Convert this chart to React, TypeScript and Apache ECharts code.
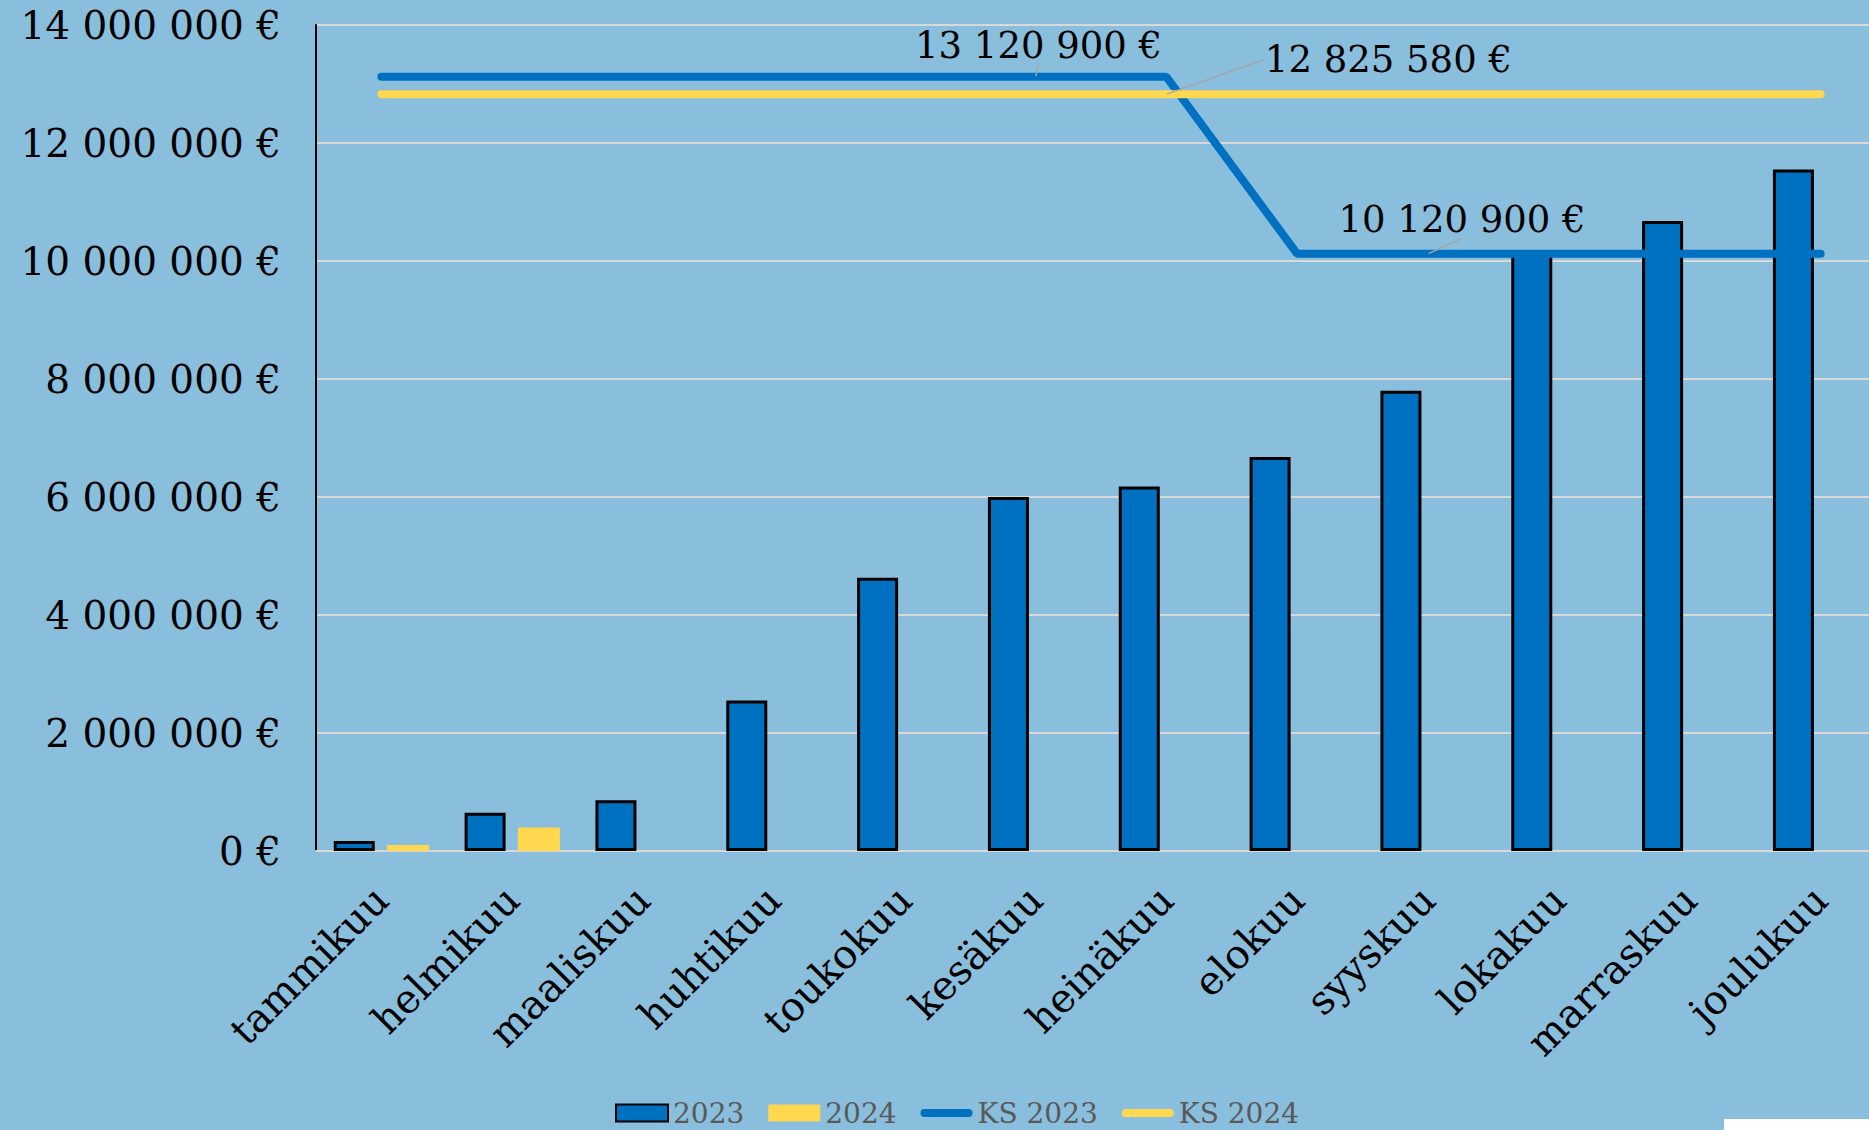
import React, { useEffect, useRef } from "react";
import * as echarts from "echarts";

const categories = [
  "tammikuu", "helmikuu", "maaliskuu", "huhtikuu", "toukokuu", "kesäkuu",
  "heinäkuu", "elokuu", "syyskuu", "lokakuu", "marraskuu", "joulukuu",
];
const values2023 = [170000, 650000, 860000, 2550000, 4630000, 6000000, 6180000, 6680000, 7800000, 10150000, 10680000, 11550000];
const values2024 = [100000, 400000, null, null, null, null, null, null, null, null, null, null];
const ks2023 = [13120900, 13120900, 13120900, 13120900, 13120900, 13120900, 13120900, 10120900, 10120900, 10120900, 10120900, 10120900];
const ks2024 = [12825580, 12825580, 12825580, 12825580, 12825580, 12825580, 12825580, 12825580, 12825580, 12825580, 12825580, 12825580];
const yTicks = { min: 0, max: 14000000, interval: 2000000 };
const labelIdx2023 = [5, 8];
const labelIdx2024 = [6];

const fmt = (v: number) => String(Math.round(v)).replace(/\B(?=(\d{3})+(?!\d))/g, " ") + " €";

const BG = "#89BEDC";
const BLUE = "#0070C0";
const YELLOW = "#FFD850";
const SERIF = "DejaVu Serif";
const LINE_ICON = "path://M4,0 L48,0 A4,4 0 0 1 48,8 L4,8 A4,4 0 0 1 4,0 Z";

export default function App() {
  const ref = useRef<HTMLDivElement>(null);
  useEffect(() => {
    document.body.style.margin = "0";
    const chart = echarts.init(ref.current!, null, { renderer: "svg" });
    const labelStyle = {
      show: true,
      position: "top" as const,
      distance: 6,
      fontFamily: SERIF,
      fontSize: 37,
      color: "#000",
      formatter: (p: any) => fmt(p.value),
    };
    const labelLine = { show: true, lineStyle: { color: "#A6A6A6", width: 1.5 } };
    chart.setOption({
      animation: false,
      backgroundColor: BG,
      grid: { left: 316, top: 25, right: -17, height: 826, outerBoundsMode: "none", containLabel: false },
      legend: {
        left: 610,
        top: 1094,
        itemWidth: 52,
        itemHeight: 17,
        itemGap: 24,
        textStyle: { fontFamily: SERIF, fontSize: 28, color: "#595959" },
        data: [
          { name: "2023", icon: "rect" },
          { name: "2024", icon: "rect" },
          { name: "KS 2023", icon: LINE_ICON },
          { name: "KS 2024", icon: LINE_ICON },
        ],
      },
      xAxis: {
        type: "category",
        data: categories,
        axisLine: { lineStyle: { color: "#D9D9D9", width: 2 } },
        axisTick: { show: false },
        axisLabel: {
          rotate: 45,
          margin: 42,
          interval: 0,
          fontFamily: SERIF,
          fontSize: 40,
          color: "#000",
        },
      },
      yAxis: {
        type: "value",
        min: yTicks.min,
        max: yTicks.max,
        interval: yTicks.interval,
        axisLine: { show: true, lineStyle: { color: "#000", width: 2 } },
        axisTick: { show: false },
        splitLine: { lineStyle: { color: "#D9D9D9", width: 2 } },
        axisLabel: {
          margin: 35,
          fontFamily: SERIF,
          fontSize: 39,
          color: "#000",
          formatter: (v: number) => fmt(v),
        },
      },
      series: [
        {
          name: "2023",
          type: "bar",
          data: values2023,
          barWidth: 41,
          barGap: "30%",
          itemStyle: { color: BLUE, borderColor: "#000", borderWidth: 3 },
        },
        {
          name: "2024",
          type: "bar",
          data: values2024,
          barWidth: 42,
          itemStyle: { color: YELLOW },
        },
        {
          name: "KS 2023",
          type: "line",
          data: ks2023.map((v, i) =>
            labelIdx2023.includes(i) ? { value: v, label: labelStyle, labelLine } : v
          ),
          symbol: "circle",
          symbolSize: 1,
          showSymbol: true,
          itemStyle: { color: BLUE },
          lineStyle: { color: BLUE, width: 8, cap: "round" },
          labelLayout: (p: any) => (p.dataIndex === 8 ? { dx: 34, dy: -9 } : { dx: 3, dy: -6 }),
          z: 3,
        },
        {
          name: "KS 2024",
          type: "line",
          data: ks2024.map((v, i) =>
            labelIdx2024.includes(i) ? { value: v, label: labelStyle, labelLine } : v
          ),
          symbol: "circle",
          symbolSize: 1,
          showSymbol: true,
          itemStyle: { color: YELLOW },
          lineStyle: { color: YELLOW, width: 8, cap: "round" },
          labelLayout: { dx: 222, dy: -10 },
          z: 4,
        },
      ],
      graphic: [
        { type: "rect", shape: { x: 1724, y: 1119, width: 145, height: 11 }, style: { fill: "#FFFFFF" }, z: 100 },
      ],
    });
    return () => chart.dispose();
  }, []);
  return <div ref={ref} style={{ width: 1869, height: 1130 }} />;
}
